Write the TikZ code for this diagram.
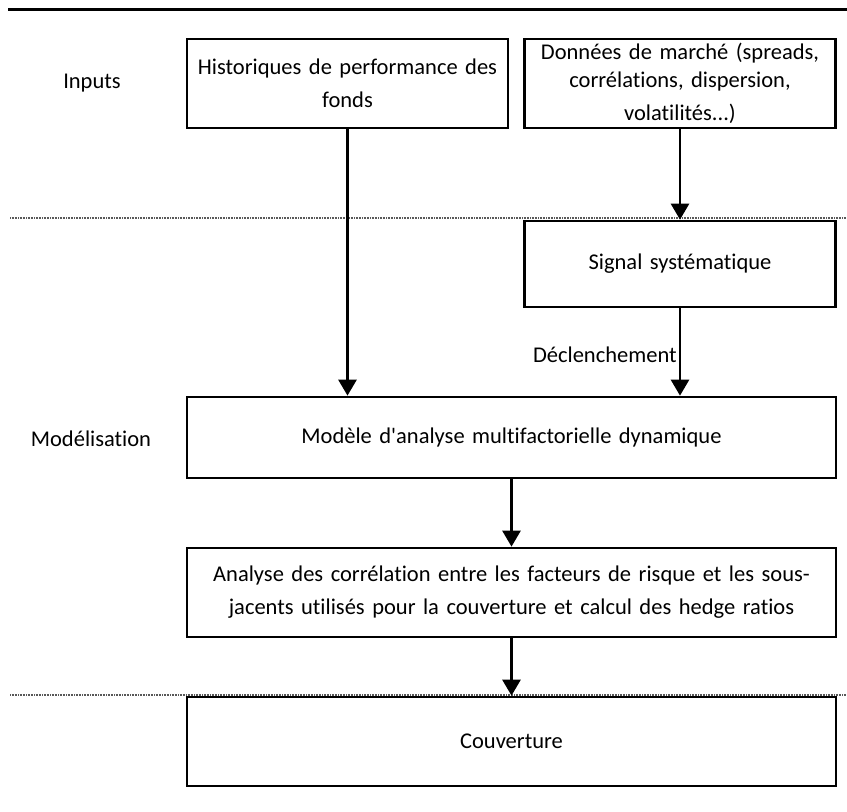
\documentclass[tikz,border=0pt]{standalone}
\usepackage{fontspec}
\setmainfont[Ligatures={NoCommon,TeXOff}]{Carlito}
\usetikzlibrary{shapes,arrows.meta}

\begin{document}
\begin{tikzpicture}[x=1pt,y=-1pt,
    font=\fontsize{22.5}{33}\selectfont,
    block_center/.style ={rectangle, draw=black, line width=2.7pt, fill=white,
      text centered, inner sep=0pt},
    block_label/.style ={rectangle, draw=none, fill=none, inner sep=0pt},
    separator/.style ={draw=black!65, line width=2.5pt, dash pattern=on 1pt off 0.6pt},
    line/.style ={draw, line width=2.7pt, -{Triangle[width=18pt,length=16pt]}, shorten >=0pt}]
    \useasboundingbox (0,0) rectangle (847,812);
    % rules between the stages
    \coordinate (rule_left) at (8,9);
    \coordinate (rule_right) at (847,9);
    \draw[line width=3pt] (rule_left) -- (rule_right);
    \coordinate (sep_one_left) at (10,218);
    \coordinate (sep_one_right) at (847,218);
    \coordinate (sep_two_left) at (10,695);
    \coordinate (sep_two_right) at (847,695);
    \path[separator] (sep_one_left) -- (sep_one_right);
    \path[separator] (sep_two_left) -- (sep_two_right);
    % stage labels
    \node [block_label] (inputs) at (92,83) {Inputs};
    \node [block_label] (modelisation) at (91,439) {Modélisation};
    % row 1
    \node [block_center, text width=321pt, minimum height=89pt] (historiques) at (347.5,83.5)
      {Historiques de performance des\\fonds};
    \node [block_center, text width=311pt, minimum height=89pt] (donnees_marche) at (680,83.5)
      {\vspace*{-5pt}Données de marché (spreads,\\corrélations, dispersion,\\volatilités...)};
    % row 2
    \node [block_center, text width=311pt, minimum height=86pt] (signal) at (680,264)
      {Signal systématique};
    % row 3
    \node [block_center, text width=649pt, minimum height=81pt] (modele) at (511.5,437.5)
      {Modèle d'analyse multifactorielle dynamique};
    % row 4
    \node [block_center, text width=649pt, minimum height=89pt] (analyse) at (511.5,592.5)
      {Analyse des corrélation entre les facteurs de risque et les sous-\\jacents utilisés pour la couverture et calcul des hedge ratios};
    % row 5
    \node [block_center, text width=649pt, minimum height=89pt] (couverture) at (511.5,741.5)
      {Couverture};
    % connecting nodes with paths
    \begin{scope}[every path/.style=line]
      \path (historiques.south) -- (historiques.south |- modele.north);
      \path (donnees_marche.south) -- (signal.north);
      \path (signal.south) -- node [block_label, left, pos=0.53, xshift=-2pt] (declenchement) {Déclenchement} (modele.north -| signal.south);
      \path (modele.south) -- (analyse.north);
      \path (analyse.south) -- (couverture.north);
    \end{scope}
\end{tikzpicture}
\end{document}
